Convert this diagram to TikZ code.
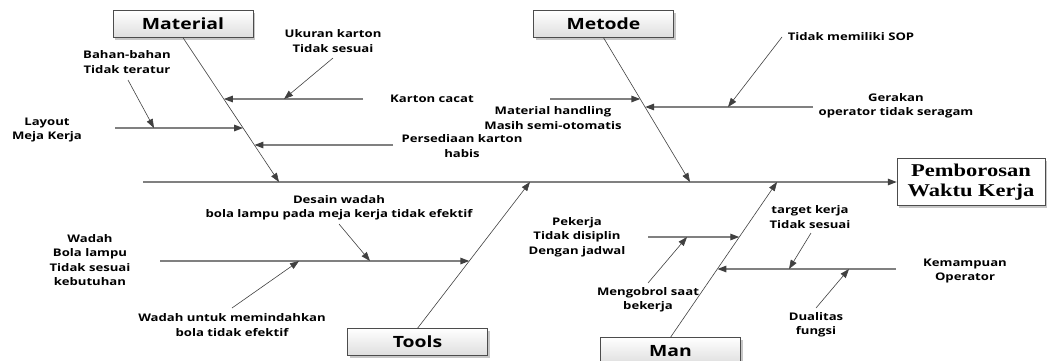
\documentclass[tikz,border=0pt]{standalone}
\usepackage{fontspec}
\newfontfamily\causefont{Open Sans}[FakeStretch=1.25]
\newfontfamily\effectfont{Liberation Serif}[FakeStretch=1.25]
\usepackage{tikz}
\usetikzlibrary{positioning}
\usetikzlibrary{calc}
\usetikzlibrary{arrows.meta}
\usetikzlibrary{shadows}
\tikzset{>={Triangle[length=9pt,width=6.5pt,color=black!75]}}
\tikzset{catbox/.style={draw=black!70, top color=white, bottom color=black!13, minimum width=140pt, minimum height=27pt, inner sep=0pt, font=\causefont\bfseries\fontsize{15.5}{18}\selectfont, drop shadow={shadow xshift=2pt, shadow yshift=-2pt, fill=black!22, opacity=1}}}
\tikzset{headbox/.style={draw=black!70, fill=white, minimum width=148pt, minimum height=47pt, inner sep=0pt, align=center, font=\effectfont\bfseries\fontsize{18}{19.5}\selectfont, drop shadow={shadow xshift=2pt, shadow yshift=-2pt, fill=black!22, opacity=1}}}
\tikzset{subtxt/.style={align=center, inner sep=0pt, font=\causefont\bfseries\fontsize{10.5}{14.5}\selectfont}}
\tikzset{bone/.style={draw=black!75, line width=0.6pt, ->}}
\tikzset{rib/.style={draw=black!50, line width=1.3pt, ->}}
\tikzset{twig/.style={draw=black!75, line width=0.6pt, ->}}

\begin{document}
\begin{tikzpicture}[x=1pt,y=-1pt]
\useasboundingbox (0,0) rectangle (1047,360);
% head and main spine
\node[headbox] (effect) at (971,182) {Pemborosan\\Waktu Kerja};
\coordinate (tail) at (143,182);
\draw[rib] (tail) -- (effect.west);
% main bones
\node[catbox] (material) at (183,24) {Material};
\node[catbox] (metode) at (603.5,24) {Metode};
\node[catbox] (tools) at (417.5,342) {Tools};
\node[catbox] (man) at (670.5,351) {Man};
\coordinate (jmat) at (279,182);
\coordinate (jmet) at (690,182);
\coordinate (jtool) at (530,182);
\coordinate (jman) at (777,182);
\draw[bone] (material.south) -- (jmat);
\draw[bone] (metode.south) -- (jmet);
\draw[bone] (tools.north) -- (jtool);
\draw[bone] (man.north) -- (jman);

% Material
\coordinate (kc1) at ($(material.south)!.425!(jmat)$);
\coordinate (lm1) at ($(material.south)!.626!(jmat)$);
\coordinate (pk1) at ($(material.south)!.744!(jmat)$);
\coordinate (kc0) at (363,99);
\coordinate (lm0) at (115,128);
\coordinate (pk0) at (393,145);
\draw[rib] (kc0) -- (kc0 -| kc1);
\draw[rib] (lm0) -- (lm0 -| lm1);
\draw[rib] (pk0) -- (pk0 -| pk1);
\coordinate (uk0) at (333,58);
\coordinate (uk1) at (284,99);
\coordinate (bb0) at (128,80);
\coordinate (bb1) at (154,128);
\draw[twig] (uk0) -- (uk1);
\draw[twig] (bb0) -- (bb1);
\node[subtxt] (ukuran) at (333,41) {Ukuran karton\\Tidak sesuai};
\node[subtxt] (karton) at (432,99) {Karton cacat};
\node[subtxt] (bahan) at (127,62) {Bahan-bahan\\Tidak teratur};
\node[subtxt] (layout) at (47,130) {Layout\\Meja Kerja};
\node[subtxt] (persediaan) at (462,146) {Persediaan karton\\habis};

% Metode
\coordinate (mh1) at ($(metode.south)!.426!(jmet)$);
\coordinate (gr1) at ($(metode.south)!.481!(jmet)$);
\coordinate (mh0) at (550,99);
\coordinate (gr0) at (813,107);
\draw[rib] (mh0) -- (mh0 -| mh1);
\draw[rib] (gr0) -- (gr0 -| gr1);
\coordinate (sop0) at (782,37);
\coordinate (sop1) at (728,107);
\draw[twig] (sop0) -- (sop1);
\node[subtxt] (sop) at (851,37) {Tidak memiliki SOP};
\node[subtxt] (gerakan) at (896,106) {Gerakan\\operator tidak seragam};
\node[subtxt] (handling) at (553,118) {Material handling\\Masih semi-otomatis};

% Tools
\coordinate (wd1) at ($(tools.north)!.461!(jtool)$);
\coordinate (wd0) at (160,261);
\draw[rib] (wd0) -- (wd0 -| wd1);
\coordinate (ds0) at (339,224);
\coordinate (ds1) at (370,261);
\coordinate (wu0) at (232,308);
\coordinate (wu1) at (299,261);
\draw[twig] (ds0) -- (ds1);
\draw[twig] (wu0) -- (wu1);
\node[subtxt] (desain) at (339,208) {Desain wadah\\bola lampu pada meja kerja tidak efektif};
\node[subtxt] (wadah) at (90,260) {Wadah\\Bola lampu\\Tidak sesuai\\kebutuhan};
\node[subtxt] (wadahpindah) at (232,325) {Wadah untuk memindahkan\\bola tidak efektif};

% Man
\coordinate (pj1) at ($(man.north)!.646!(jman)$);
\coordinate (km1) at ($(man.north)!.44!(jman)$);
\coordinate (pj0) at (648,237);
\coordinate (km0) at (896,269);
\draw[rib] (pj0) -- (pj0 -| pj1);
\draw[rib] (km0) -- (km0 -| km1);
\coordinate (mg0) at (648,283);
\coordinate (mg1) at (687,237);
\coordinate (tk0) at (811,233);
\coordinate (tk1) at (789,269);
\coordinate (df0) at (816,308);
\coordinate (df1) at (849,269);
\draw[twig] (mg0) -- (mg1);
\draw[twig] (tk0) -- (tk1);
\draw[twig] (df0) -- (df1);
\node[subtxt] (pekerja) at (577,237) {Pekerja\\Tidak disiplin\\Dengan jadwal};
\node[subtxt] (mengobrol) at (648,300) {Mengobrol saat\\bekerja};
\node[subtxt] (target) at (810,217) {target kerja\\Tidak sesuai};
\node[subtxt] (kemampuan) at (965,271) {Kemampuan\\Operator};
\node[subtxt] (dualitas) at (816,325) {Dualitas\\fungsi};
\end{tikzpicture}
\end{document}
